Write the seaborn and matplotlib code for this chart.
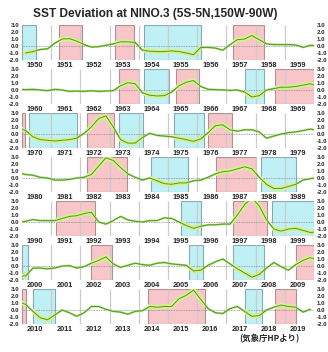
"""
NINO.3 SST deviation, one panel per decade (1950-2019)
"""

import numpy as np
import pandas as pd
import matplotlib
matplotlib.use('Agg')
import matplotlib.pyplot as plt
import seaborn as sns

# Quarterly values (Feb, May, Aug, Nov), one list per decade
sst_1950s = [-1.0, -0.8, -0.5, -0.4,   0.4, 1.0, 1.05, 0.7,   0.2, -0.15, -0.1, 0.1,
             0.3, 0.6, 0.6, 0.5,      -0.6, -0.75, -0.8, -0.8, -0.7, -0.8, -1.0, -1.25,
             -0.2, -0.2, -0.3, -0.6,   0.2, 0.9, 1.0, 1.5,    0.9, 0.3, 0.2, 0.2,
             0.2, 0.15, -0.2, 0.1]
sst_1960s = [0.05, 0.1, 0.0, -0.1,    0.1, 0.0, -0.2, -0.15, -0.2, -0.1, -0.2, -0.15,
             -0.1, 0.6, 1.05, 0.9,    -0.4, -0.75, -0.85, -0.8, -0.3, 0.6, 1.1, 1.35,
             0.5, 0.1, 0.05, 0.0,     -0.05, 0.0, -0.3, -1.0,  -0.8, 0.0, 0.2, 0.4,
             0.4, 0.5, 0.7, 0.9]
sst_1970s = [0.5, -0.4, -0.8, -0.9,   -1.0, -0.9, -0.8, -0.6,  0.1, 1.0, 2.2, 2.6,
             1.0, -0.8, -1.3, -1.3,   -0.5, 0.1, -0.2, -0.3,   -0.4, -0.6, -0.8, -1.05,
             -0.7, 0.2, 1.2, 1.3,     0.6, 0.4, 0.6, 0.6,      0.3, -0.6, -0.3, 0.0,
             0.2, 0.3, 0.5, 0.7]
sst_1980s = [0.5, 0.4, 0.1, 0.0,      -0.3, -0.3, -0.2, 0.0,   0.1, 0.5, 1.7, 2.9,
             2.5, 1.5, 0.6, 0.1,      -0.3, 0.0, -0.4, -0.8,   -0.9, -0.7, -0.7, -0.4,
             -0.3, 0.1, 0.6, 0.9,     1.0, 1.3, 1.6, 1.3,      0.1, -0.9, -1.5, -1.5,
             -1.2, -0.9, -0.3, -0.1]
sst_1990s = [0.1, 0.35, 0.2, 0.2,     0.2, 0.5, 0.8, 0.9,      1.2, 1.4, 0.0, -0.3,
             0.2, 0.8, 0.3, 0.1,      0.0, 0.2, 0.2, 0.6,      0.5, 0.0, -0.5, -0.9,
             -0.6, -0.4, -0.4, -0.3,  -0.3, 1.0, 2.5, 3.4,     2.3, 0.3, -1.0, -1.3,
             -1.0, -0.9, -1.2, -1.5]
sst_2000s = [-1.4, -0.3, -0.3, -0.4,  -0.3, 0.0, 0.05, -0.3,   -0.1, 0.4, 0.8, 1.3,
             0.3, -0.2, 0.1, 0.4,     0.2, 0.1, 0.4, 0.5,      0.3, 0.2, 0.1, -0.7,
             -0.6, 0.1, 0.6, 1.0,     0.3, -0.4, -1.0, -1.6,   -1.2, -0.3, 0.5, -0.1,
             -0.6, 0.2, 0.8, 1.2]
sst_2010s = [0.8, -0.2, -1.1, -1.4,   -0.7, 0.0, -0.4, -0.9,   -0.4, 0.5, 0.5, 0.1,
             -0.2, -0.3, -0.6, -0.2,  -0.1, 0.5, 0.4, 0.5,     0.5, 1.6, 2.1, 2.85,
             1.5, 0.2, -0.4, -0.5,    0.2, 0.5, -0.2, -0.9,    -0.8, 0.0, 0.4, 0.7,
             0.5, 0.4, -0.3, 0.1]

decades = [1950, 1960, 1970, 1980, 1990, 2000, 2010]
months = [2, 5, 8, 11]

# Event periods (decimal years)
el_nino = [(1951.25, 1952.05), (1953.17, 1953.85), (1957.22, 1958.30), (1963.33, 1964.00),
           (1965.28, 1966.07), (1968.66, 1970.10), (1972.23, 1973.16), (1976.36, 1977.18),
           (1982.21, 1983.58), (1986.63, 1988.00), (1991.15, 1992.50), (1997.22, 1998.38),
           (2002.35, 2003.07), (2009.40, 2010.13), (2014.33, 2016.28), (2018.66, 2019.40)]
la_nina = [(1949.50, 1950.47), (1954.18, 1956.13), (1964.18, 1965.04), (1967.65, 1968.30),
           (1970.24, 1971.89), (1973.33, 1974.16), (1975.21, 1976.22), (1984.43, 1985.70),
           (1988.20, 1989.40), (1995.45, 1996.13), (1998.56, 2000.20), (2005.73, 2006.20),
           (2007.22, 2008.30), (2010.38, 2011.12), (2017.65, 2018.22)]

y_ticks = [3.0, 2.0, 1.0, 0.0, -1.0, -2.0]

TITLE = 'SST Deviation at NINO.3 (5S-5N,150W-90W)'
CREDIT = '(気象庁HPより)'

PINK, PINK_EDGE = '#f8c5c9', '#b09090'
CYAN, CYAN_EDGE = '#bff0f5', '#88aab0'
DARK_GREEN = '#4a9a26'
PALE_GREEN = '#b4de78'
THICK_GREEN = '#d8ef8c'

sns.set_style('white')
plt.rcParams['font.family'] = ['Liberation Sans', 'DejaVu Sans']
plt.rcParams['font.weight'] = 'bold'

values = sst_1950s + sst_1960s + sst_1970s + sst_1980s + sst_1990s + sst_2000s + sst_2010s
years = np.repeat(np.arange(1950, 2020), len(months))
mon = np.tile(months, 70)
df = pd.DataFrame({'x': years + (mon - 0.5) / 12.0, 'sst': values})

W_PX, H_PX = 328, 352
fig = plt.figure(figsize=(W_PX / 100, H_PX / 100), dpi=100)

left_px, right_px = 22, 314
panel_h = 35

for i, d in enumerate(decades):
    top_px = 25 + 44 * i
    ax = fig.add_axes([left_px / W_PX, 1 - (top_px + panel_h) / H_PX,
                       (right_px - left_px) / W_PX, panel_h / H_PX])

    spans = []
    for periods, fc, ec in [(el_nino, PINK, PINK_EDGE), (la_nina, CYAN, CYAN_EDGE)]:
        for s, e in periods:
            if e > d and s < d + 10:
                p = ax.axvspan(max(s, d), min(e, d + 10), facecolor=fc, edgecolor=ec,
                               lw=0.8, zorder=1)
                spans.append(p)

    ax.vlines(range(d + 1, d + 10), -2, 3, color='#cbcbcb', lw=0.9, zorder=2)
    ax.axhline(0, color='#8a8a8a', lw=0.6, ls=(0, (1, 1)), zorder=2)

    sns.lineplot(data=df, x='x', y='sst', ax=ax, color=PALE_GREEN, lw=1.5, zorder=3)
    for p in spans:
        sns.lineplot(data=df, x='x', y='sst', ax=ax, color=THICK_GREEN, lw=3.4, zorder=4)
        ax.lines[-1].set_clip_path(p)
    sns.lineplot(data=df, x='x', y='sst', ax=ax, color=DARK_GREEN, lw=0.7, zorder=5)

    ax.set_xlim(d, d + 10)
    ax.set_ylim(-2, 3)
    ax.set_xlabel('')
    ax.set_ylabel('')
    ax.set_yticks(y_ticks)
    ax.set_yticklabels([f'{v:.1f}' for v in y_ticks])
    ax.set_xticks([d + k + 0.45 for k in range(10)])
    ax.set_xticklabels([str(d + k) for k in range(10)])
    ax.tick_params(axis='y', length=0, labelsize=4.4, pad=2.0,
                   labelleft=True, labelright=True)
    ax.tick_params(axis='x', length=0, labelsize=5.3, pad=1.2)
    for sp in ax.spines.values():
        sp.set_visible(False)

fig.text(155 / W_PX, 1 - 14 / H_PX, TITLE, ha='center', va='center',
         fontsize=8.6, fontweight='bold')
fig.text(269 / W_PX, 1 - 339 / H_PX, CREDIT, ha='center', va='center',
         fontsize=6, fontweight='bold', family=['Noto Sans CJK JP', 'DejaVu Sans'])

fig.savefig('out.png', dpi=100)
